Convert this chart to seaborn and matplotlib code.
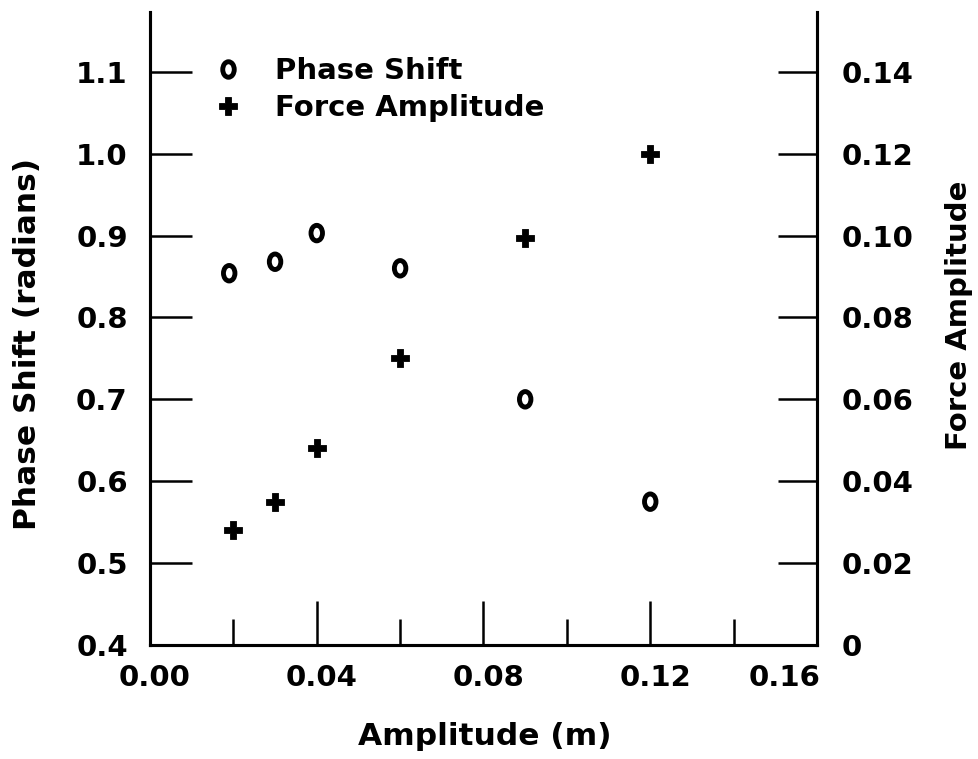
import numpy as np
import pandas as pd
import matplotlib
matplotlib.use("Agg")
import matplotlib.pyplot as plt
import seaborn as sns
from matplotlib.path import Path
from matplotlib.markers import MarkerStyle
from matplotlib.lines import Line2D
from matplotlib.transforms import ScaledTranslation

# ---- data ----
amp_phase = [0.019, 0.030, 0.040, 0.060, 0.090, 0.120]
phase_shift = [0.854, 0.868, 0.903, 0.860, 0.700, 0.575]
amp_force = [0.020, 0.030, 0.040, 0.060, 0.090, 0.120]
force_amp = [0.028, 0.035, 0.048, 0.070, 0.0995, 0.120]

x_major = [0.00, 0.04, 0.08, 0.12, 0.16]
x_major_labels = ["0.00", "0.04", "0.08", "0.12", "0.16"]
x_minor = [0.02, 0.06, 0.10, 0.14]
left_ticks = [0.4, 0.5, 0.6, 0.7, 0.8, 0.9, 1.0, 1.1]
left_labels = ["0.4", "0.5", "0.6", "0.7", "0.8", "0.9", "1.0", "1.1"]
right_ticks = [0, 0.02, 0.04, 0.06, 0.08, 0.10, 0.12, 0.14]
right_labels = ["0", "0.02", "0.04", "0.06", "0.08", "0.10", "0.12", "0.14"]

legend_labels = ["Phase Shift", "Force Amplitude"]

sns.set_theme(style="white")
plt.rcParams['font.family'] = ['DejaVu Sans']
plt.rcParams['font.weight'] = 'bold'
plt.rcParams['text.color'] = 'black'
plt.rcParams['axes.labelcolor'] = 'black'
plt.rcParams['xtick.color'] = 'black'
plt.rcParams['ytick.color'] = 'black'

fig = plt.figure(figsize=(9.79, 7.59), dpi=100)
ax = fig.add_axes([150/979, 1-645/759, 667/979, 633/759])
ax2 = ax.twinx()

ylo, yhi = 0.4, 1.173
ax.set_xlim(0, 0.16)
ax.set_ylim(ylo, yhi)
ax2.set_ylim((ylo-0.4)*0.2, (yhi-0.4)*0.2)

# elliptical open marker
circ = Path.unit_circle()
ell = Path(circ.vertices * np.array([0.74, 1.0]), circ.codes)
ell_marker = MarkerStyle(ell)

df_p = pd.DataFrame({"amp": amp_phase, "val": phase_shift})
df_f = pd.DataFrame({"amp": amp_force, "val": force_amp})

sns.scatterplot(data=df_p, x="amp", y="val", ax=ax, marker=ell_marker, s=125,
                facecolor="none", edgecolor="black", linewidth=3.5, zorder=5)
sns.scatterplot(data=df_f, x="amp", y="val", ax=ax2, marker="P", s=155,
                color="black", edgecolor="black", linewidth=0.6, zorder=5)

for a in (ax, ax2):
    for s in a.spines.values():
        s.set_linewidth(2.2)
        s.set_color("black")
    a.spines["top"].set_visible(False)

TICKFS = 21

# x ticks
ax.set_xticks(x_major)
ax.set_xticklabels(x_major_labels)
ax.set_xticks(x_minor, minor=True)
ax.tick_params(axis="x", which="major", direction="in", length=32, width=1.8,
               color="black", labelsize=TICKFS, labelcolor="black", pad=14, bottom=True, top=False)
ax.tick_params(axis="x", which="minor", direction="in", length=19, width=1.8,
               color="black", bottom=True, top=False)
xlabs = ax.get_xticklabels()
for i, lab in enumerate(xlabs):
    lab.set_fontweight("bold")
    dx = 5/100 if i < len(xlabs) - 1 else -32/100
    lab.set_transform(lab.get_transform() + ScaledTranslation(dx, 0, fig.dpi_scale_trans))

# left y ticks
ax.set_yticks(left_ticks)
ax.set_yticklabels(left_labels)
ax.tick_params(axis="y", which="major", direction="in", length=30, width=1.8,
               color="black", labelsize=TICKFS, labelcolor="black", pad=16, left=True, right=False)
for lab in ax.get_yticklabels():
    lab.set_fontweight("bold")

# right y ticks
ax2.set_yticks(right_ticks)
ax2.set_yticklabels(right_labels)
ax2.tick_params(axis="y", which="major", direction="in", length=28, width=1.8,
                color="black", labelsize=TICKFS, labelcolor="black", pad=18, left=False, right=True)
for lab in ax2.get_yticklabels():
    lab.set_fontweight("bold")

ax.set_xlabel("Amplitude (m)", fontsize=22.5, fontweight="bold", color="black")
ax.xaxis.set_label_coords((485-150)/667, (645-722)/633)
ax.set_ylabel("Phase Shift (radians)", fontsize=22.5, fontweight="bold", va="center", color="black")
ax.yaxis.set_label_coords((28-150)/667, (645-344)/633)
ax2.set_ylabel("Force Amplitude", fontsize=21, fontweight="bold", va="center", rotation=90, color="black")
ax2.yaxis.set_label_coords((959-150)/667, (645-315)/633)

handles = [
    Line2D([], [], linestyle="none", marker=ell_marker, markersize=11.2,
           markerfacecolor="none", markeredgecolor="black", markeredgewidth=3.5),
    Line2D([], [], linestyle="none", marker="P", markersize=12.4,
           markerfacecolor="black", markeredgecolor="black", markeredgewidth=0.6),
]
leg = ax2.legend(handles, legend_labels, loc="upper left",
                 bbox_to_anchor=((213.5-150)/667, (645-57)/633),
                 frameon=False, fontsize=21, handlelength=1.0, handletextpad=1.11,
                 labelspacing=0.3, borderpad=0, borderaxespad=0)
for t in leg.get_texts():
    t.set_fontweight("bold")
    t.set_color("black")

fig.savefig("out.png", dpi=100, facecolor="white")
